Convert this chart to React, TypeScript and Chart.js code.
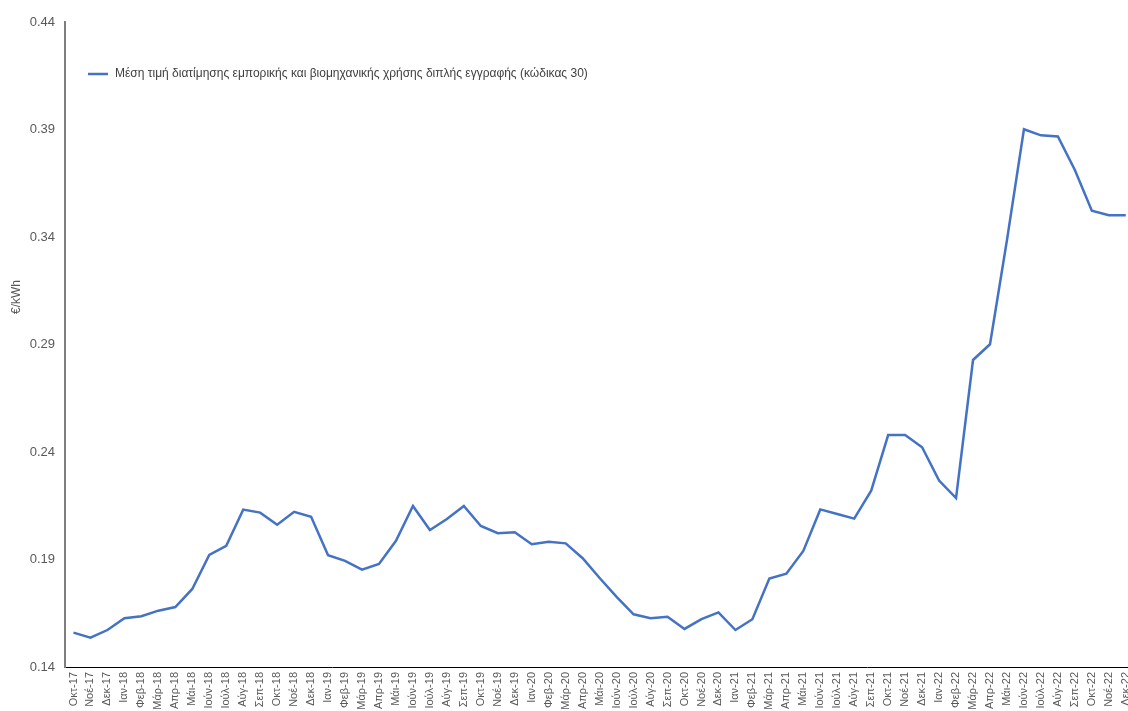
import React, { useEffect, useRef } from "react";
import { Chart, registerables } from "chart.js";

Chart.register(...registerables);

const months: string[] = [
  "Οκτ-17", "Νοέ-17", "Δεκ-17",
  "Ιαν-18", "Φεβ-18", "Μάρ-18", "Απρ-18", "Μάι-18", "Ιούν-18", "Ιούλ-18", "Αύγ-18", "Σεπ-18", "Οκτ-18", "Νοέ-18", "Δεκ-18",
  "Ιαν-19", "Φεβ-19", "Μάρ-19", "Απρ-19", "Μάι-19", "Ιούν-19", "Ιούλ-19", "Αύγ-19", "Σεπ-19", "Οκτ-19", "Νοέ-19", "Δεκ-19",
  "Ιαν-20", "Φεβ-20", "Μάρ-20", "Απρ-20", "Μάι-20", "Ιούν-20", "Ιούλ-20", "Αύγ-20", "Σεπ-20", "Οκτ-20", "Νοέ-20", "Δεκ-20",
  "Ιαν-21", "Φεβ-21", "Μάρ-21", "Απρ-21", "Μάι-21", "Ιούν-21", "Ιούλ-21", "Αύγ-21", "Σεπ-21", "Οκτ-21", "Νοέ-21", "Δεκ-21",
  "Ιαν-22", "Φεβ-22", "Μάρ-22", "Απρ-22", "Μάι-22", "Ιούν-22", "Ιούλ-22", "Αύγ-22", "Σεπ-22", "Οκτ-22", "Νοέ-22", "Δεκ-22",
];

const prices: number[] = [
  0.156, 0.1536, 0.1572,
  0.1627, 0.1636, 0.1662, 0.1679, 0.1763, 0.1921, 0.1964, 0.2132, 0.2118, 0.2062, 0.2122, 0.2099,
  0.192, 0.1894, 0.1853, 0.1879, 0.1987, 0.2149, 0.2037, 0.2088, 0.2149, 0.2056, 0.2022, 0.2027,
  0.1971, 0.1983, 0.1975, 0.1906, 0.1814, 0.1726, 0.1645, 0.1627, 0.1634, 0.1577, 0.1623, 0.1654,
  0.1572, 0.1622, 0.1811, 0.1834, 0.194, 0.2133, 0.2112, 0.209, 0.222, 0.2479, 0.2479, 0.2422,
  0.2267, 0.2186, 0.2828, 0.2901, 0.3386, 0.3901, 0.3873, 0.3868, 0.3712, 0.3522, 0.3501, 0.3501,
];

const yTicks: number[] = [0.14, 0.19, 0.24, 0.29, 0.34, 0.39, 0.44];

const seriesLabel =
  "Μέση τιμή διατίμησης εμπορικής και βιομηχανικής χρήσης διπλής εγγραφής (κώδικας 30)";
const yTitle = "€/kWh";

const LINE_COLOR = "#4472C4";
const TEXT_COLOR = "#595959";
const FONT = '"Liberation Sans", Arial, sans-serif';

const overlayPlugin = {
  id: "overlay",
  afterDraw(chart: any) {
    const ctx = chart.ctx as CanvasRenderingContext2D;
    const area = chart.chartArea;
    // Y axis title
    ctx.save();
    ctx.translate(17, 297);
    ctx.rotate(-Math.PI / 2);
    ctx.font = `12px ${FONT}`;
    ctx.fillStyle = TEXT_COLOR;
    ctx.textAlign = "center";
    ctx.textBaseline = "middle";
    ctx.fillText(yTitle, 0, 0);
    ctx.restore();
    // Legend
    const lx = area.left + 23;
    const ly = area.top + 52;
    ctx.save();
    ctx.strokeStyle = LINE_COLOR;
    ctx.lineWidth = 2.5;
    ctx.beginPath();
    ctx.moveTo(lx, ly);
    ctx.lineTo(lx + 20, ly);
    ctx.stroke();
    ctx.font = `12px ${FONT}`;
    ctx.fillStyle = "#404040";
    ctx.textAlign = "left";
    ctx.textBaseline = "middle";
    ctx.fillText(chart.data.datasets[0].label, lx + 27, ly);
    ctx.restore();
  },
};

export default function App() {
  const canvasRef = useRef<HTMLCanvasElement | null>(null);

  useEffect(() => {
    const canvas = canvasRef.current;
    if (!canvas) return;
    const chart = new Chart(canvas, {
      type: "line",
      data: {
        labels: months,
        datasets: [
          {
            label: seriesLabel,
            data: prices,
            borderColor: LINE_COLOR,
            backgroundColor: LINE_COLOR,
            borderWidth: 2.5,
            pointRadius: 0,
            tension: 0,
            fill: false,
          },
        ],
      },
      options: {
        responsive: false,
        animation: false,
        layout: { padding: { top: 22, right: 2, left: 0, bottom: 0 } },
        plugins: {
          legend: { display: false },
          tooltip: { enabled: false },
        },
        scales: {
          x: {
            type: "category",
            offset: true,
            grid: { display: false, drawTicks: false },
            border: { display: true, color: "#000000", width: 1, dash: [3, 2] },
            ticks: {
              autoSkip: false,
              minRotation: 90,
              maxRotation: 90,
              padding: 5,
              color: TEXT_COLOR,
              font: { size: 11, family: FONT },
            },
            afterFit(scale: any) {
              scale.height = 44;
            },
          },
          y: {
            type: "linear",
            min: 0.14,
            max: 0.44,
            grid: { display: false, drawTicks: false },
            border: { display: true, color: "#7f7f7f", width: 2 },
            ticks: {
              padding: 10,
              color: TEXT_COLOR,
              font: { size: 13, family: FONT },
              callback: (v: any) => Number(v).toFixed(2),
            },
            afterBuildTicks(scale: any) {
              scale.ticks = yTicks.map((value) => ({ value }));
            },
            afterFit(scale: any) {
              scale.width = 65;
            },
          },
        },
      },
      plugins: [overlayPlugin],
    });
    return () => chart.destroy();
  }, []);

  return (
    <div
      style={{
        position: "fixed",
        left: 0,
        top: 0,
        width: 1128,
        height: 711,
        overflow: "hidden",
        background: "#ffffff",
      }}
    >
      <canvas ref={canvasRef} width={1144} height={711} style={{ display: "block" }} />
    </div>
  );
}
